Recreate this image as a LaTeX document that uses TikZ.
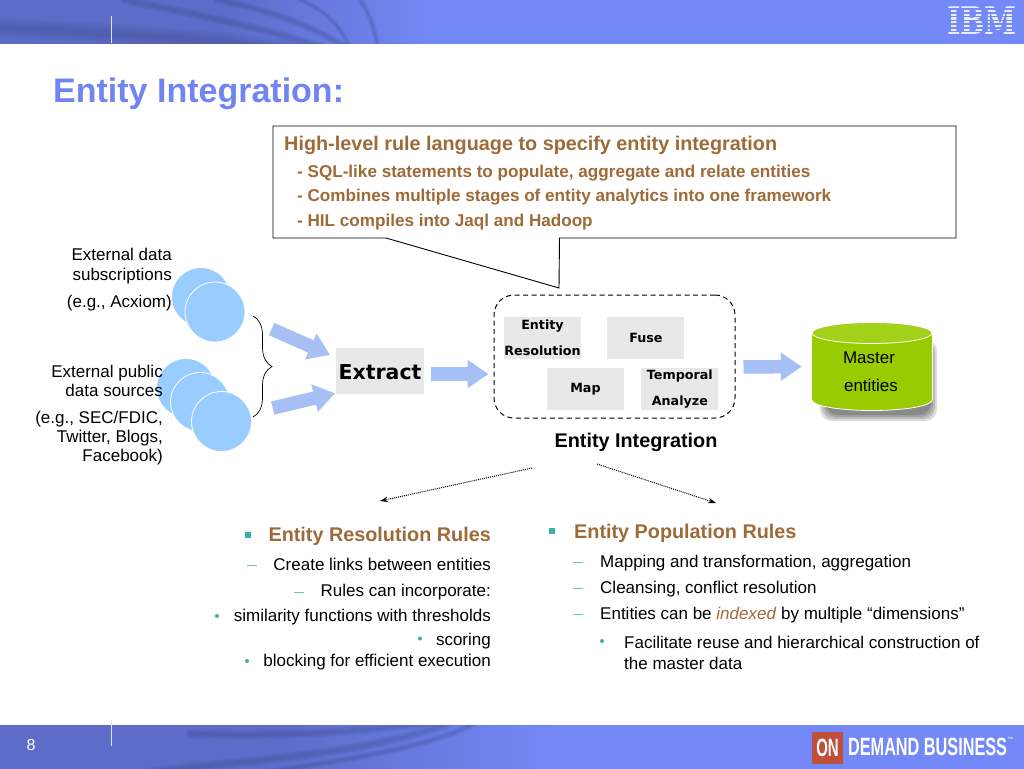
\documentclass[tikz,border=0pt]{standalone}
\usepackage{fontspec}
\setmainfont{Liberation Sans}
\newfontfamily\boxfont{DejaVu Sans}
\newfontfamily\logofont{DejaVu Serif}
\usetikzlibrary{positioning,shapes.geometric,arrows.meta,decorations.pathreplacing}
\definecolor{BarBlue}{RGB}{116,137,248}
\definecolor{BarDark}{RGB}{92,108,200}
\definecolor{TitleBlue}{RGB}{112,132,244}
\definecolor{RuleBrown}{RGB}{158,106,56}
\definecolor{MarkTeal}{RGB}{60,176,165}
\definecolor{FlowBlue}{RGB}{166,191,245}
\definecolor{SourceBlue}{RGB}{153,204,255}
\definecolor{StepGray}{RGB}{232,232,232}
\definecolor{MasterGreen}{RGB}{153,204,0}
\definecolor{OnRed}{RGB}{190,80,60}
\newcommand{\fs}[1]{\fontsize{#1}{#1}\selectfont}
\newcommand{\softcurve}[2]{%
  \foreach \wd in {1,0.75,0.5,0.25} {
    \draw[BarDark!55!black,opacity=0.07,line width=\wd*#1,line cap=round] #2;
  }}
\tikzset{
  txt/.style={inner sep=0pt,font=\fs{17}},
  ruletxt/.style={txt,anchor=base east},
  poptxt/.style={txt,anchor=base west},
  calltxt/.style={txt,anchor=base west,font=\fs{17.1}\bfseries,text=RuleBrown},
  headtxt/.style={txt,font=\fs{19.8}\bfseries,text=RuleBrown},
  srctxt/.style={inner sep=0pt,align=right,anchor=north east,font=\fontsize{17}{19.3}\selectfont},
  srcball/.style={circle,fill=SourceBlue,draw=white,line width=0.8pt,inner sep=0pt},
  stepbox/.style={rectangle,fill=StepGray,inner sep=0pt,minimum width=77pt,minimum height=42pt,
                  align=center,font=\boxfont\fontsize{12.7}{25.5}\selectfont\bfseries},
  masterend/.style={ellipse,draw=white,line width=0.8pt,inner sep=0pt,minimum width=120pt,minimum height=21pt},
  sqmark/.style={rectangle,fill=MarkTeal,inner sep=0pt,minimum size=6pt},
  dashmark/.style={rectangle,fill=MarkTeal!75!white,inner sep=0pt,minimum width=10pt,minimum height=1pt},
  dotmark/.style={circle,fill=MarkTeal,inner sep=0pt,minimum size=4pt},
  flowarr/.style={-{Triangle[length=21pt,width=27pt]},FlowBlue,line width=13.5pt},
  dotarr/.style={-{Stealth[length=8pt,width=5.5pt]},densely dotted,line width=1pt},
}
\begin{document}
\begin{tikzpicture}[x=1pt,y=-1pt]
    \useasboundingbox (0,0) rectangle (1024,768);

    % Bars
    \fill[BarBlue] (0,0) rectangle (1024,44);
    \fill[left color=BarDark,right color=BarBlue,middle color=BarDark] (0,0) rectangle (440,44);
    \fill[BarBlue] (0,725) rectangle (1024,770);
    \fill[left color=BarDark,right color=BarBlue,middle color=BarDark] (0,725) rectangle (560,770);
    \begin{scope}
      \clip (0,0) rectangle (1024,44);
      \softcurve{20}{(-10,27) .. controls (100,33) and (200,38) .. (290,50)}
      \softcurve{9}{(125,0) .. controls (200,15) and (270,30) .. (325,48)}
      \softcurve{8}{(217,0) .. controls (270,10) and (310,25) .. (347,48)}
      \softcurve{5}{(300,0) .. controls (325,10) and (340,25) .. (350,48)}
      \softcurve{6}{(360,0) .. controls (368,12) and (374,25) .. (378,48)}
    \end{scope}
    \begin{scope}
      \clip (0,725) rectangle (1024,770);
      \softcurve{9}{(190,734) .. controls (260,736) and (340,735) .. (435,722)}
      \softcurve{10}{(150,772) .. controls (250,760) and (360,755) .. (448,724)}
      \softcurve{7}{(270,772) .. controls (340,760) and (420,750) .. (474,724)}
    \end{scope}
    \draw[white!75!BarBlue,line width=0.9pt] (111,16) -- (111,43);
    \draw[white!75!BarBlue,line width=0.9pt] (111,720) -- (111,746);
    \node[inner sep=0pt,anchor=base,text=white,font=\fs{16}] (pagenum) at (31,750) {8};

    % Logos
    \node[inner sep=0pt,text=white!85!BarBlue,font=\logofont\fontsize{38}{38}\selectfont\bfseries,xscale=0.76] (ibm) at (982,21) {IBM};
    \foreach \ypos in {8.5,12.2,15.9,19.6,23.3,27,30.7} {
      \fill[BarBlue] (945,\ypos) rectangle (1020,\ypos+1.6);
    }
    \node[rectangle,fill=OnRed,inner sep=0pt,minimum width=52pt,minimum height=32pt,text=white,font=\fs{25}\bfseries,xscale=0.6] (on) at (827.5,748) {ON};
    \node[inner sep=0pt,anchor=west,text=white,font=\fs{25}\bfseries,xscale=0.65] (demand) at (848,747) {DEMAND BUSINESS};
    \node[inner sep=0pt,text=white,font=\fs{6}] (tm) at (1010,739) {™};

    % Title
    \node[inner sep=0pt,anchor=base west,text=TitleBlue,font=\fs{34}\bfseries] (title) at (53,102) {Entity Integration:};

    % Callout
    \coordinate (calla) at (273,126);
    \coordinate (callb) at (956,238);
    \coordinate (calltip) at (559,288);
    \draw[line width=0.9pt,fill=white] (calla) -- (calla -| callb) -- (callb) -- (559.5,238) -- (calltip) -- (386,238) -- (calla |- callb) -- cycle;
    \node[headtxt,anchor=base west] (callhead) at (284,150) {High-level rule language to specify entity integration};
    \node[calltxt] (callone) at (297,177) {- SQL-like statements to populate, aggregate and relate entities};
    \node[calltxt] (calltwo) at (297,201) {- Combines multiple stages of entity analytics into one framework};
    \node[calltxt] (callthree) at (297,226) {- HIL compiles into Jaql and Hadoop};

    % Sources
    \node[srcball,minimum size=59pt] (ballone) at (201,297) {};
    \node[srcball,minimum size=60pt] (balltwo) at (215,312) {};
    \node[srcball,minimum size=59pt] (ballthree) at (186,388) {};
    \node[srcball,minimum size=59pt] (ballfour) at (200,402) {};
    \node[srcball,minimum size=60pt] (ballfive) at (221.5,421.5) {};
    \node[srctxt] (subs) at (172,248) {External data\\[0.7pt]subscriptions};
    \node[srctxt] (acxiom) at (172,295) {(e.g., Acxiom)};
    \node[srctxt] (public) at (163,364.5) {External public\\data sources};
    \node[srctxt] (sec) at (163,410.5) {(e.g., SEC/FDIC,\\Twitter, Blogs,\\Facebook)};
    \coordinate (bracetop) at (253,316);
    \coordinate (bracebot) at (253,417);
    \draw[decorate,decoration={brace,amplitude=19pt},line width=0.7pt] (bracetop) -- (bracebot);

    % Stages
    \node[rectangle,fill=StepGray,inner sep=0pt,minimum width=88pt,minimum height=46pt,text height=17.5pt,text depth=0pt,font=\boxfont\fs{20.5}\bfseries] (extract) at (380,371) {Extract};
    \node[rectangle,draw,dash pattern=on 5pt off 3.5pt,line width=1pt,rounded corners=20pt,minimum width=241pt,minimum height=123pt] (integ) at (614.5,356.5) {};
    \node[stepbox] (resolve) at (542.5,338) {Entity\\Resolution};
    \node[stepbox,right=26pt of resolve] (fuse) {Fuse};
    \node[stepbox] (map) at (585.5,389) {Map};
    \node[stepbox,right=17pt of map] (temporal) {Temporal\\Analyze};
    \node[inner sep=0pt,anchor=base,font=\fs{19.8}\bfseries] (integname) at (636,447) {Entity Integration};
    \foreach \grow in {6,4,2,0} {
      \fill[black,opacity=0.14,rounded corners=12pt] (826-\grow,345-\grow) rectangle (931+\grow,415+\grow);
    }
    \node[masterend,fill=MasterGreen] (masterbot) at (872,400) {};
    \node[rectangle,fill=MasterGreen,inner sep=0pt,minimum width=120pt,minimum height=67pt] (master) at (872,366.5) {};
    \draw[white,line width=0.8pt] (master.north west) -- (master.south west);
    \draw[white,line width=0.8pt] (master.north east) -- (master.south east);
    \node[masterend,fill=MasterGreen!90!white] (mastertop) at (872,333) {};
    \node[inner sep=0pt,anchor=base,font=\fs{17}] (mastera) at (869,363) {Master};
    \node[inner sep=0pt,anchor=base,font=\fs{17}] (masterb) at (871,391.5) {entities};

    % Rules on the left
    \node[headtxt,anchor=base east] (resrules) at (491,541.7) {Entity Resolution Rules};
    \node[ruletxt] (reslinks) at (491,570) {Create links between entities};
    \node[ruletxt] (resinc) at (491,596.7) {Rules can incorporate:};
    \node[ruletxt] (ressim) at (491,621.7) {similarity functions with thresholds};
    \node[ruletxt] (resscore) at (491,645) {scoring};
    \node[ruletxt] (resblock) at (491,666.7) {blocking for efficient execution};
    \node[sqmark] (markresa) at (247.5,535) {};
    \node[dashmark] (markresb) at (252,565) {};
    \node[dashmark] (markresc) at (299,592) {};
    \node[dotmark] (markresd) at (217,616) {};
    \node[dotmark] (markrese) at (420,638.5) {};
    \node[dotmark] (markresf) at (247,661) {};

    % Rules on the right
    \node[headtxt,anchor=base west] (poprules) at (574,538.5) {Entity Population Rules};
    \node[poptxt] (popmap) at (600,567) {Mapping and transformation, aggregation};
    \node[poptxt] (popclean) at (600,593) {Cleansing, conflict resolution};
    \node[poptxt] (popindex) at (600,619) {Entities can be \textcolor{RuleBrown}{\textit{indexed}} by multiple “dimensions”};
    \node[poptxt] (popreuse) at (624,648) {Facilitate reuse and hierarchical construction of};
    \node[poptxt] (popdata) at (624,669) {the master data};
    \node[sqmark] (markpopa) at (552,531) {};
    \node[dashmark] (markpopb) at (578,562) {};
    \node[dashmark] (markpopc) at (578,588) {};
    \node[dashmark] (markpopd) at (578,614) {};
    \node[dotmark] (markpope) at (602,641) {};

    % Arrows
    \coordinate (srctop) at (271.7,329);
    \coordinate (srcbot) at (272.7,408);
    \coordinate (extop) at (330,355);
    \coordinate (exbot) at (335,393.3);
    \coordinate (resstart) at (532,468);
    \coordinate (resend) at (380,501);
    \coordinate (popstart) at (597,464);
    \coordinate (popend) at (716,503);
    \draw[flowarr] (srctop) -- (extop);
    \draw[flowarr] (srcbot) -- (exbot);
    \draw[flowarr,shorten <=7pt,shorten >=5pt] ([yshift=-3pt]extract.east) -- ([yshift=-17.5pt]integ.west);
    \draw[flowarr,shorten <=8pt,shorten >=10pt] ([yshift=-10.5pt]integ.east) -- (master.west);
    \draw[dotarr] (resstart) -- (resend);
    \draw[dotarr] (popstart) -- (popend);
\end{tikzpicture}
\end{document}
